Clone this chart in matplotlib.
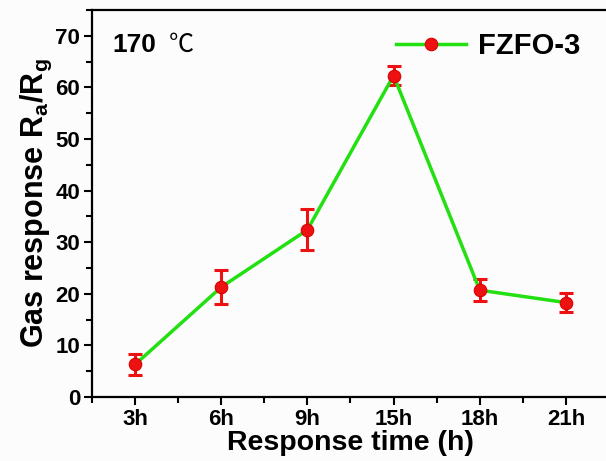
import matplotlib
matplotlib.use("Agg")
import matplotlib.pyplot as plt
from matplotlib.ticker import MultipleLocator

plt.rcParams['font.family'] = ['Liberation Sans', 'DejaVu Sans']
plt.rcParams['mathtext.fontset'] = 'custom'
plt.rcParams['mathtext.rm'] = 'Liberation Sans:bold'
plt.rcParams['mathtext.bf'] = 'Liberation Sans:bold'
plt.rcParams['mathtext.default'] = 'bf'

categories = ['3h', '6h', '9h', '15h', '18h', '21h']
response = [6.3, 21.3, 32.4, 62.3, 20.7, 18.3]
errors = [2.1, 3.3, 4.0, 1.8, 2.1, 1.8]
series_label = 'FZFO-3'

fig = plt.figure(figsize=(6.06, 4.61), dpi=100, facecolor='#fcfcfc')
ax = fig.add_axes([92/606, 64/461, 517/606, 387/461])
ax.set_facecolor('#fcfcfc')

x = list(range(len(categories)))
ax.errorbar(x, response, yerr=errors, fmt='none', ecolor='#ee1111',
            elinewidth=2.2, capsize=5, capthick=2.2, zorder=3)
ax.plot(x, response, '-', color='#22e011', lw=2.5, marker='o',
        markersize=9, markerfacecolor='#ee1111', markeredgecolor='#dd0000',
        markeredgewidth=0.8, label=series_label, zorder=4)

ax.set_xlim(-0.5, 5.5)
ax.set_ylim(0, 75)
ax.set_xticks(x)
ax.set_xticklabels(categories)
ax.xaxis.set_minor_locator(MultipleLocator(0.5))
ax.set_yticks(range(0, 71, 10))
ax.yaxis.set_minor_locator(MultipleLocator(5))

for s in ax.spines.values():
    s.set_linewidth(1.6)
ax.tick_params(which='both', direction='out', width=1.5, top=False, right=False)
ax.tick_params(which='major', length=6, labelsize=16, pad=2.5)
ax.tick_params(which='minor', length=4)
for lab in ax.get_xticklabels() + ax.get_yticklabels():
    lab.set_fontweight('bold')

ax.set_xlabel('Response time (h)', fontsize=20.5, fontweight='bold', labelpad=0)
ax.set_ylabel(r'Gas response R$_{a}$/R$_{g}$', fontsize=22, fontweight='bold', labelpad=1)

ax.text(0.04, 0.91, '170', transform=ax.transAxes, fontsize=19,
        fontweight='bold', va='center', ha='left')
ax.text(0.148, 0.91, '℃', transform=ax.transAxes, fontsize=18,
        family=['Noto Sans CJK SC', 'DejaVu Sans'], fontweight='light',
        va='center', ha='left')

leg = ax.legend(loc='upper right', bbox_to_anchor=(0.995, 1.01), frameon=False,
                handlelength=2.4, handletextpad=0.4,
                prop={'weight': 'bold', 'size': 21})

fig.savefig('out.png', dpi=100, facecolor=fig.get_facecolor())
